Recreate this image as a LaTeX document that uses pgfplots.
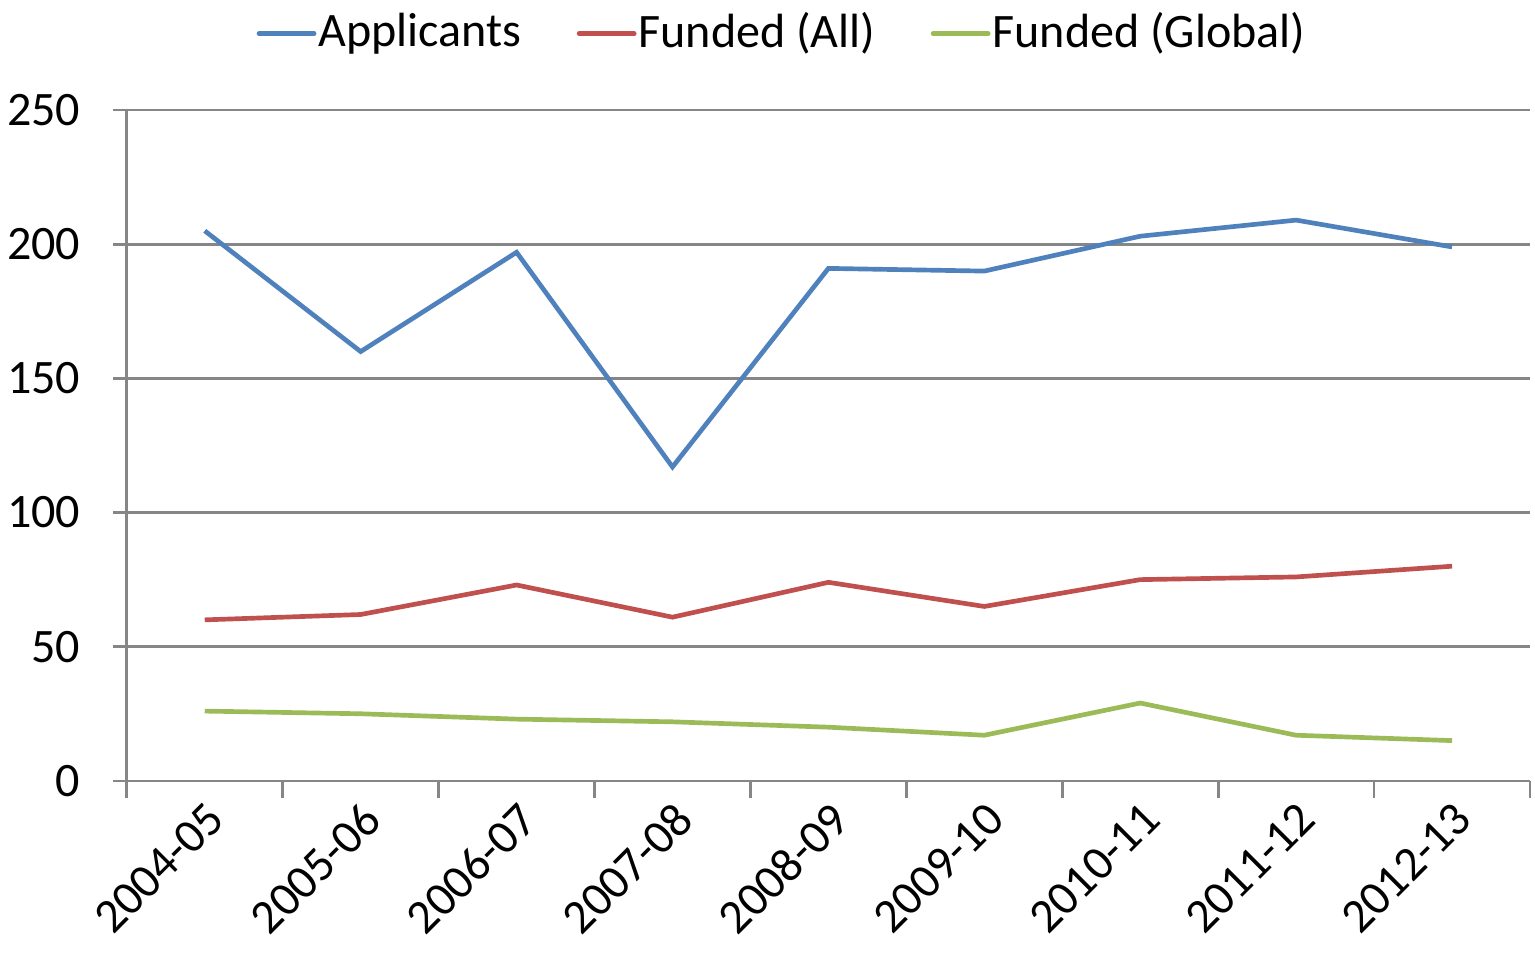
\documentclass[border=0pt]{standalone}
\usepackage{fontspec}
\setmainfont{Carlito}
\usepackage{pgfplots}
\pgfplotsset{compat=1.18}
\definecolor{xblue}{HTML}{4F81BD}
\definecolor{xred}{HTML}{C0504D}
\definecolor{xgreen}{HTML}{9BBB59}
\definecolor{axgray}{HTML}{868686}

\begin{document}
\fontsize{14.4}{17}\selectfont
\begin{tikzpicture}
\begin{axis}[
  name=ax,
  scale only axis,
  width=420.5pt, height=201pt,
  xmin=-0.5, xmax=8.5,
  ymin=0, ymax=250,
  ytick={0,50,...,250},
  xtick={0,...,8},
  xticklabels={2004-05,2005-06,2006-07,2007-08,2008-09,2009-10,2010-11,2011-12,2012-13},
  minor xtick={-0.5,0.5,...,8.5},
  axis lines=left,
  axis line style={-, axgray, line width=0.8pt},
  tick align=outside,
  major x tick style={draw=none},
  minor tick style={axgray, line width=0.8pt},
  minor tick length=5pt,
  major tick length=4pt,
  ytick style={axgray, line width=0.8pt},
  ymajorgrids,
  grid style={axgray, line width=0.8pt},
  /pgf/number format/assume math mode=true,
  tick label style={font=\fontsize{14.4}{17}\selectfont},
  xticklabel style={anchor=north east, rotate=45, inner sep=1pt},
  yticklabel style={xshift=-5pt},
  legend style={at={(0.467,1.114)}, anchor=center, draw=none, fill=none,
    legend columns=3, font=\fontsize{14.4}{17}\selectfont,
    nodes={inner xsep=0.6pt},
    /tikz/every even column/.append style={column sep=16pt},
    inner sep=0pt},
  legend image code/.code={\draw[#1, line width=1.4pt, line cap=round] (0pt,0pt) -- (16.5pt,0pt);},
  legend cell align=left,
  every axis plot/.append style={line width=1.4pt, mark=none},
]
\addplot[xblue] coordinates {(0,205) (1,160) (2,197) (3,117) (4,191) (5,190) (6,203) (7,209) (8,199)};
\addplot[xred] coordinates {(0,60) (1,62) (2,73) (3,61) (4,74) (5,65) (6,75) (7,76) (8,80)};
\addplot[xgreen] coordinates {(0,26) (1,25) (2,23) (3,22) (4,20) (5,17) (6,29) (7,17) (8,15)};
\legend{Applicants, Funded (All), Funded (Global)}
\end{axis}
\pgfresetboundingbox
\path ([xshift=-38pt, yshift=-53.3pt]ax.south west) rectangle ([xshift=1.5pt, yshift=33pt]ax.north east);
\end{tikzpicture}
\end{document}
